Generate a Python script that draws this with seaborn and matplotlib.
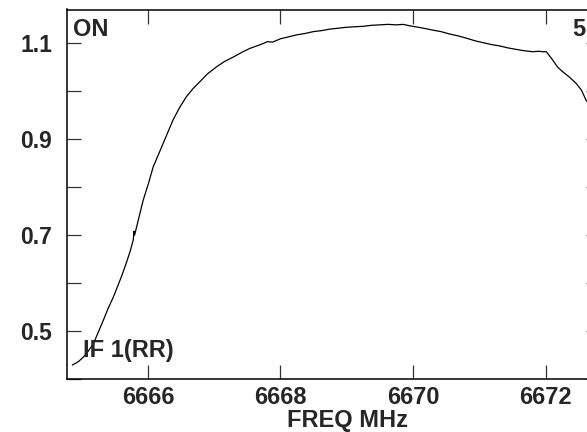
import matplotlib
matplotlib.use("Agg")
import matplotlib.pyplot as plt
import matplotlib.ticker as mticker
import pandas as pd
import seaborn as sns

# spectrum (FREQ MHz, relative amplitude)
freq = [6664.86, 6664.95, 6665.03, 6665.10, 6665.18, 6665.25, 6665.33,
        6665.40, 6665.48, 6665.54, 6665.60, 6665.67, 6665.73, 6665.78,
        6665.79, 6665.80, 6665.88, 6665.93, 6666.01, 6666.08, 6666.16,
        6666.23, 6666.31, 6666.38, 6666.48, 6666.58, 6666.68, 6666.78,
        6666.90, 6667.04, 6667.16, 6667.29, 6667.42, 6667.54, 6667.64,
        6667.74, 6667.80, 6667.88, 6668.00, 6668.12, 6668.24, 6668.37,
        6668.50, 6668.62, 6668.74, 6668.87, 6669.00, 6669.12, 6669.25,
        6669.37, 6669.50, 6669.62, 6669.75, 6669.85, 6669.95, 6670.12,
        6670.30, 6670.42, 6670.55, 6670.68, 6670.81, 6670.93, 6671.05,
        6671.18, 6671.31, 6671.43, 6671.55, 6671.68, 6671.81, 6671.90,
        6671.95, 6672.01, 6672.10, 6672.18, 6672.26, 6672.36, 6672.46,
        6672.54, 6672.61, 6672.70, 6672.80]
amp = [0.429, 0.436, 0.446, 0.458, 0.474, 0.497, 0.523,
       0.547, 0.571, 0.592, 0.613, 0.640, 0.665, 0.690,
       0.708, 0.700, 0.745, 0.773, 0.808, 0.842, 0.868,
       0.891, 0.917, 0.940, 0.966, 0.988, 1.005, 1.019,
       1.036, 1.051, 1.062, 1.071, 1.081, 1.089, 1.094,
       1.099, 1.103, 1.102, 1.109, 1.113, 1.117, 1.120,
       1.124, 1.126, 1.129, 1.131, 1.133, 1.134, 1.135,
       1.137, 1.138, 1.139, 1.138, 1.139, 1.136, 1.132,
       1.127, 1.124, 1.119, 1.115, 1.110, 1.105, 1.101,
       1.097, 1.094, 1.090, 1.087, 1.084, 1.082, 1.083,
       1.082, 1.082, 1.066, 1.050, 1.040, 1.029, 1.016,
       1.002, 0.981, 0.966, 0.950]

xticks = [6666, 6668, 6670, 6672]
yticks = [0.5, 0.7, 0.9, 1.1]
yminor = [0.4, 0.6, 0.8, 1.0]

sns.set_style("ticks")
plt.rcParams['font.family'] = ['Liberation Sans', 'DejaVu Sans']
plt.rcParams['font.weight'] = 'bold'

W, H = 587, 432
fig = plt.figure(figsize=(W / 100, H / 100), dpi=100)
ax = fig.add_axes([67 / W, 1 - 379 / H, (600 - 67) / W, (379 - 9.5) / H])

df = pd.DataFrame({'freq': freq, 'amp': amp})
sns.lineplot(data=df, x='freq', y='amp', ax=ax, color='black',
             linewidth=0.9, sort=False, estimator=None)

ax.set_xlim(6664.78, 6672.82)
ax.set_ylim(0.4, 1.17)
ax.xaxis.set_major_locator(mticker.FixedLocator(xticks))
ax.yaxis.set_major_locator(mticker.FixedLocator(yticks))
ax.yaxis.set_minor_locator(mticker.FixedLocator(yminor))
ax.set_xticklabels([str(t) for t in xticks])
ax.set_yticklabels([f'{t:.1f}' for t in yticks])

for s in ax.spines.values():
    s.set_color('black')
    s.set_linewidth(1.1)

ax.tick_params(axis='both', which='both', direction='in', length=10,
               width=0.9, color='#333333', top=True, right=True)
ax.tick_params(axis='x', which='both', top=True, labeltop=False)
ax.tick_params(axis='y', labelsize=16.5, pad=10.8)
ax.tick_params(axis='x', labelsize=17, pad=5)

ax.set_xlabel('')
ax.set_ylabel('')
fig.text(347.5 / W, 1 - 427 / H, 'FREQ MHz', fontsize=17, fontweight='bold',
         va='baseline', ha='center')

fig.text(73 / W, 1 - 36 / H, 'ON', fontsize=17, fontweight='bold',
         va='baseline', ha='left')
fig.text(572 / W, 1 - 36 / H, '5', fontsize=17, fontweight='bold',
         va='baseline', ha='left')
fig.text(83 / W, 1 - 357 / H, 'IF 1(RR)', fontsize=17, fontweight='bold',
         va='baseline', ha='left')

fig.savefig('out.png', dpi=100)
